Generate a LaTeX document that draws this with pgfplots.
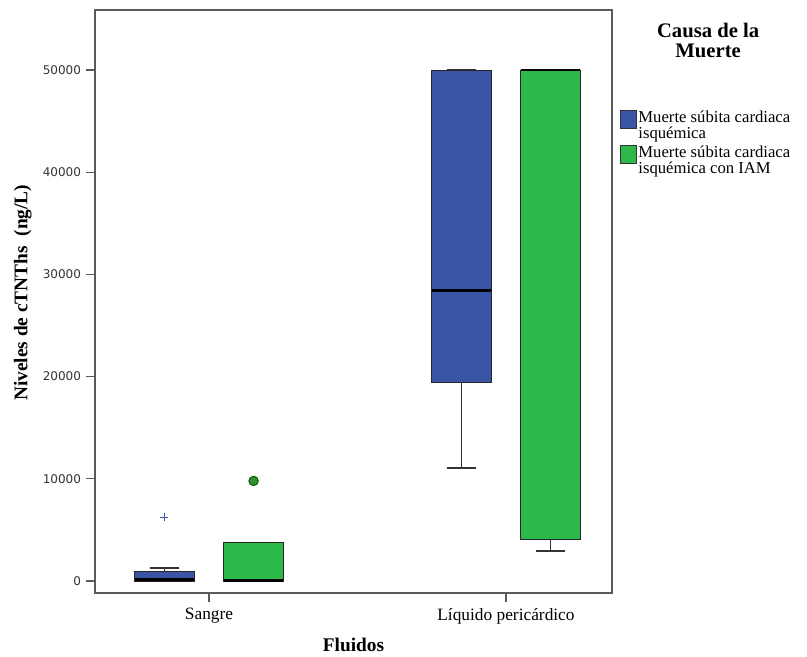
\documentclass[border=0pt]{standalone}
\usepackage{fontspec}
\setmainfont{Liberation Serif}
\newfontfamily\ticksf{DejaVu Sans}
\usepackage{pgfplots}
\pgfplotsset{compat=1.18}
\usepgfplotslibrary{statistics}
\definecolor{cblue}{HTML}{3A55A6}
\definecolor{cgreen}{HTML}{2DB84A}
\definecolor{cframe}{HTML}{5A5A5A}
\begin{document}
\begin{tikzpicture}
% values in thousands of ng/L
\begin{axis}[
  name=ax,
  clip=false,
  scale only axis,
  width=387.75pt, height=437.25pt,
  xmin=-0.384, xmax=1.357,
  ymin=-1.174, ymax=55.87,
  xtick={0,1}, xticklabels={Sangre, Líquido pericárdico},
  ytick={0,10,20,30,40,50},
  yticklabels={0,10000,20000,30000,40000,50000},
  yticklabel style={font=\ticksf\fontsize{9}{10}\selectfont, text=black!80},
  xticklabel style={font=\fontsize{13}{14}\selectfont, yshift=-1pt},
  tick align=outside,
  xtick pos=bottom, ytick pos=left,
  major tick length=7pt,
  tick style={cframe, line width=1pt},
  axis line style={cframe, line width=1.2pt},
  xlabel={\textbf{Fluidos}},
  ylabel={\textbf{Niveles de cTNThs\ \ (ng/L)}},
  label style={font=\fontsize{14.5}{16}\selectfont},
  xlabel style={at={(rel axis cs:0.5,0)}, anchor=north, yshift=-30pt},
  ylabel style={at={(rel axis cs:0,0.515)}, anchor=south, yshift=44pt},
  boxplot/draw direction=y,
  boxplot/every median/.style={line width=2.2pt, black},
  boxplot/every whisker/.style={line width=1.1pt, black!80},
  legend style={at={(rel axis cs:1.0155,0.829)}, anchor=north west, draw=none, fill=none,
    font=\fontsize{12.5}{12}\selectfont, row sep=2pt, inner sep=0pt,
    nodes={align=left, inner sep=1pt, xshift=1.5pt}},
  legend cell align=left,
]
\addlegendimage{legend image code/.code={\draw[fill=cblue, draw=black!80, line width=0.6pt] (0pt,-2pt) rectangle (12pt,11.5pt);}}
\addlegendentry{Muerte súbita cardiaca\\isquémica}
\addlegendimage{legend image code/.code={\draw[fill=cgreen, draw=black!80, line width=0.6pt] (0pt,-2pt) rectangle (12pt,11.5pt);}}
\addlegendentry{Muerte súbita cardiaca\\isquémica con IAM}

% Sangre
\addplot[boxplot prepared={draw position=-0.15, lower whisker=0, lower quartile=0, median=0.12, upper quartile=0.91, upper whisker=1.27, box extend=0.2, whisker extend=0.1},
  fill=cblue, draw=black!85, line width=0.7pt, mark=+, mark size=3pt, mark options={draw=cblue, line width=0.7pt}, forget plot]
  table[row sep=\\, y index=0] {y\\6.23\\};
\addplot[boxplot prepared={draw position=0.15, lower whisker=0, lower quartile=0, median=0.06, upper quartile=3.75, upper whisker=3.75, box extend=0.2, whisker extend=0.1},
  fill=cgreen, draw=black!85, line width=0.7pt, mark=*, mark size=3.5pt, mark options={draw=black!60!green, fill=green!45!black!80, line width=0.8pt}, forget plot]
  table[row sep=\\, y index=0] {y\\9.79\\};
% Liquido pericardico
\addplot[boxplot prepared={draw position=0.85, lower whisker=11.06, lower quartile=19.47, median=28.38, upper quartile=50, upper whisker=50, box extend=0.2, whisker extend=0.1},
  fill=cblue, draw=black!85, line width=0.7pt, forget plot]
  coordinates {};
\addplot[boxplot prepared={draw position=1.15, lower whisker=2.935, lower quartile=4.08, median=50, upper quartile=50, upper whisker=50, box extend=0.2, whisker extend=0.1},
  fill=cgreen, draw=black!85, line width=0.7pt, forget plot]
  coordinates {};

\node[font=\bfseries\fontsize{15.5}{14.5}\selectfont, align=center, anchor=north] at (rel axis cs:1.186,0.985) {Causa de la\\Muerte};
\end{axis}
\pgfresetboundingbox
\useasboundingbox ([xshift=-71.25pt,yshift=-48pt]ax.south west) rectangle ([xshift=146.25pt,yshift=7.5pt]ax.north east);
\end{tikzpicture}
\end{document}
